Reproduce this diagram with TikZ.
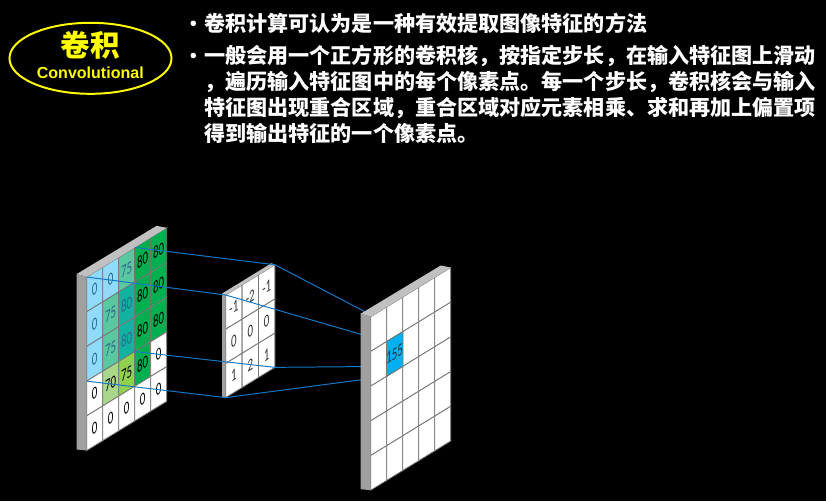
\documentclass[tikz,border=0pt]{standalone}
\usepackage{fontspec}
\usepackage{graphicx}
\setmainfont{Liberation Sans}
\newfontfamily\cjkfont{Noto Sans CJK SC}
\newfontfamily\digitfont{Carlito}
\usepackage{xcolor}
\definecolor{InBlue}{RGB}{146,218,250}
\definecolor{InMix}{RGB}{88,200,160}
\definecolor{InTeal}{RGB}{18,178,160}
\definecolor{InGreen}{RGB}{0,176,80}
\definecolor{InLime}{RGB}{146,208,80}
\definecolor{InPale}{RGB}{169,216,140}
\definecolor{NumBlue}{RGB}{40,105,140}
\definecolor{OutCyan}{RGB}{0,176,240}
\definecolor{GridGray}{RGB}{120,120,120}
\definecolor{SideGray}{RGB}{160,160,160}
\definecolor{SideLight}{RGB}{192,192,192}
\definecolor{LinkBlue}{RGB}{20,120,200}
\definecolor{TitleYellow}{RGB}{255,255,0}
\usepackage{tikz}
\usetikzlibrary{shapes.geometric, positioning, calc}
\pgfdeclarelayer{front}
\pgfsetlayers{main,front}
\newcommand{\cellnum}[1]{\scalebox{0.62}[1]{#1}}
\tikzset{
  % Skewed grid cell
  cell/.style={
    rectangle, draw=GridGray, line width=0.6pt,
    inner sep=0pt, outer sep=0pt, transform shape,
    font=\fontsize{12.5}{12.5}\selectfont\digitfont
  },
  incell/.style={cell, minimum width=0.4cm, minimum height=0.8675cm},
  kcell/.style={cell, fill=white, text=black!80, minimum width=0.41cm, minimum height=0.855cm},
  outcell/.style={cell, fill=white, minimum width=0.4cm, minimum height=0.8675cm},
  % Thickness of the boards
  sidedark/.style={fill=SideGray},
  sidelight/.style={fill=SideLight},
  % Connectors
  link/.style={draw=LinkBlue, line width=0.7pt},
  % Texts
  titleoval/.style={ellipse, draw=TitleYellow, line width=1.4pt,
    minimum width=4.05cm, minimum height=1.775cm, inner sep=0pt},
  bodytxt/.style={anchor=base west, inner sep=0pt, text=white,
    font=\fontsize{15}{18}\selectfont\cjkfont\bfseries},
  bulletdot/.style={circle, fill=white, minimum size=0.14cm, inner sep=0pt},
}

\begin{document}
\begin{tikzpicture}[x=0.025cm, y=-0.025cm]

  \useasboundingbox (0,0) rectangle (826,501);
  \fill[black] (0,0) rectangle (826,501);

  %% ---- TITLE ----
  \node[titleoval] (title) at (90.5,58.3) {};
  \node[anchor=base, inner sep=0pt, text=TitleYellow,
        font=\fontsize{21}{21}\selectfont\cjkfont\bfseries] (titlecn) at (90.3,56.5) {卷积};
  \node[anchor=base, inner sep=0pt, text=TitleYellow,
        font=\fontsize{11.4}{11.4}\selectfont\bfseries] (titleen) at (90.3,78) {Convolutional};

  %% ---- BULLETS ----
  \node[bulletdot] (dot1) at (193.3,23.3) {};
  \node[bulletdot] (dot2) at (193.3,55.5) {};
  \node[bodytxt] (line1) at (204,31.2) {卷积计算可认为是一种有效提取图像特征的方法};
  \foreach \txt [count=\i] in {
    {一般会用一个正方形的卷积核，按指定步长，在输入特征图上滑动},
    {，遍历输入特征图中的每个像素点。每一个步长，卷积核会与输入},
    {特征图出现重合区域，重合区域对应元素相乘、求和再加上偏置项},
    {得到输出特征的一个像素点。}}{
    \node[bodytxt] (para-\i) at (204,{63.7+25.8*(\i-1)}) {\txt};
  }

  %% ---- INPUT FEATURE MAP ----
  \begin{scope}[shift={(86.7,277)}, yslant=0.615]
    \foreach \rowvals [count=\r] in {
      {0/InBlue/NumBlue,0/InBlue/NumBlue,75/InMix/NumBlue,80/InGreen/black,80/InGreen/black},
      {0/InBlue/NumBlue,75/InMix/NumBlue,80/InTeal/NumBlue,80/InGreen/black,80/InGreen/black},
      {0/InBlue/NumBlue,75/InMix/NumBlue,80/InTeal/NumBlue,80/InGreen/black,80/InGreen/black},
      {0/white/black,70/InPale/black,75/InLime/black,80/InGreen/black,0/white/black},
      {0/white/black,0/white/black,0/white/black,0/white/black,0/white/black}}{
      \foreach \v/\fc/\tc [count=\c] in \rowvals {
        \node[incell, fill=\fc, text=\tc] (in-\r-\c)
          at ({(\c-0.5)*16},{(\r-0.5)*34.7}) {\cellnum{\v}};
      }
    }
  \end{scope}
  \fill[sidedark] (in-1-1.north west) -- (in-5-1.south west) -- ++(-10,-1)
    -- ($(in-1-1.north west)+(-10,-3)$) -- cycle;
  \fill[sidelight] (in-1-1.north west) -- ($(in-1-1.north west)+(-10,-3)$)
    -- ($(in-1-5.north east)+(-10,-2)$) -- (in-1-5.north east) -- cycle;

  %% ---- KERNEL ----
  \begin{scope}[shift={(225.7,295)}, yslant=0.615]
    \foreach \rowvals [count=\r] in {{-1,-2,-1},{0,0,0},{1,2,1}}{
      \foreach \v [count=\c] in \rowvals {
        \node[kcell] (k-\r-\c) at ({(\c-0.5)*16.4},{(\r-0.5)*34.2}) {\cellnum{\v}};
      }
    }
  \end{scope}
  \fill[sidedark] (k-1-1.north west) -- (k-3-1.south west) -- ++(-3.5,-0.5)
    -- ($(k-1-1.north west)+(-3.5,-1.5)$) -- cycle;
  \fill[sidelight] (k-1-1.north west) -- ($(k-1-1.north west)+(-3.5,-1.5)$)
    -- ($(k-1-3.north east)+(-3.5,-1.5)$) -- (k-1-3.north east) -- cycle;

  %% ---- OUTPUT FEATURE MAP ----
  \begin{pgfonlayer}{front}
    \begin{scope}[shift={(370.7,316.7)}, yslant=0.615]
      \foreach \r in {1,...,5}{
        \foreach \c in {1,...,5}{
          \node[outcell] (out-\r-\c) at ({(\c-0.5)*16},{(\r-0.5)*34.7}) {};
        }
      }
      \node[outcell, fill=OutCyan, text=black!80] (outhit)
        at ({1.5*16},{1.5*34.7}) {\cellnum{155}};
    \end{scope}
    \fill[sidedark] (out-1-1.north west) -- (out-5-1.south west) -- ++(-10,-1)
      -- ($(out-1-1.north west)+(-10,-3)$) -- cycle;
    \fill[sidelight] (out-1-1.north west) -- ($(out-1-1.north west)+(-10,-3)$)
      -- ($(out-1-5.north east)+(-10,-2)$) -- (out-1-5.north east) -- cycle;
  \end{pgfonlayer}

  %% Connectors: input window -> kernel -> output pixel
  \draw[link] (in-1-3.north east) -- (k-1-3.north east) -- (outhit.north east);
  \draw[link] (in-1-1.north west) -- (k-1-1.north west) -- (outhit.north west);
  \draw[link] (in-3-3.south east) -- (k-3-3.south east) -- (outhit.south east);
  \draw[link] (in-3-1.south west) -- (k-3-1.south west) -- (outhit.south west);

\end{tikzpicture}
\end{document}
